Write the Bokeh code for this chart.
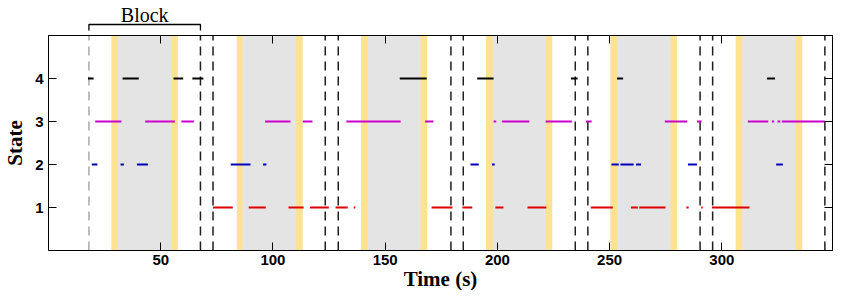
from bokeh.plotting import figure
from bokeh.layouts import column
from bokeh.models import LinearAxis, FixedTicker, Range1d
from bokeh.embed import file_html
from bokeh.resources import INLINE
from bokeh.core.properties import value

# ---------------- data ----------------
x_ticks = [50, 100, 150, 200, 250, 300]
y_ticks = [1, 2, 3, 4]
x_lim = [0.0, 349.3]
y_lim = [0.0, 5.0]
x_title = "Time (s)"
y_title = "State"

# block boundaries (dashed lines)
block_lines = [18.0, 67.7, 73.3, 123.3, 129.1, 179.3, 184.8, 234.7, 240.3, 290.3, 295.9, 345.9]
block_label = "Block"

# stimulus on / off bands
on_start = [28.1, 83.9, 139.2, 194.9, 250.4, 306.2]
on_end = [30.8, 86.5, 142.1, 197.9, 253.3, 309.1]
off_start = [55.0, 110.3, 165.8, 221.5, 277.1, 332.9]
off_end = [57.6, 113.2, 168.7, 224.4, 280.0, 335.8]

# state occupancy segments
state4_start = [17.6, 33.0, 55.7, 64.1, 156.5, 191.0, 232.8, 253.3, 320.1]
state4_end = [20.1, 40.2, 60.0, 69.0, 168.5, 198.3, 235.7, 256.0, 323.7]

state3_start = [20.8, 43.1, 59.2, 96.5, 113.3, 132.7, 167.8, 198.3, 202.0, 221.5, 239.4,
                274.6, 288.9, 311.6, 322.3, 324.8, 326.7]
state3_end = [32.5, 56.3, 64.8, 107.8, 117.6, 156.9, 171.5, 199.5, 214.2, 233.2, 242.0,
              284.6, 291.0, 320.7, 323.3, 326.0, 345.8]

state2_start = [19.3, 32.1, 39.4, 81.2, 95.6, 188.0, 197.6, 250.8, 254.8, 261.8, 284.9, 324.2]
state2_end = [21.8, 33.6, 44.3, 90.0, 97.1, 191.7, 198.8, 254.1, 260.7, 264.0, 288.9, 327.2]

state1_start = [73.3, 89.2, 106.9, 116.5, 127.9, 136.0, 170.7, 184.4, 199.1, 213.4, 241.6,
                259.5, 263.2, 284.2, 290.8, 295.6]
state1_end = [82.1, 96.8, 113.7, 124.9, 133.3, 136.7, 180.0, 188.8, 202.7, 221.8, 251.4,
              262.6, 274.9, 285.2, 291.5, 312.3]

# ---------------- layout constants ----------------
W = 834
TOP_H = 35
MAIN_H = 232
BOT_H = 23
BL, BR = 46, 2
tick_font = "Liberation Sans"
label_font = "Liberation Serif"


def strip(h):
    f = figure(width=W, height=h, output_backend="svg", toolbar_location=None,
               x_range=Range1d(*x_lim), y_range=Range1d(0, h),
               x_axis_location=None, y_axis_location=None,
               min_border_left=BL, min_border_right=BR, min_border_top=0, min_border_bottom=0)
    f.grid.visible = False
    f.outline_line_color = None
    f.background_fill_color = "white"
    f.border_fill_color = "white"
    return f


# ---------------- main figure ----------------
p = figure(width=W, height=MAIN_H, output_backend="svg", toolbar_location=None,
           x_range=Range1d(*x_lim), y_range=Range1d(*y_lim),
           min_border_left=BL, min_border_right=BR, min_border_top=0, min_border_bottom=0)
p.grid.visible = False
p.outline_line_color = "black"
p.background_fill_color = "white"
p.border_fill_color = "white"

GRAY = "#e4e4e4"
YELLOW = "#fde292"

p.quad(left=on_start, right=off_end, bottom=y_lim[0], top=y_lim[1],
       fill_color=GRAY, line_color=None)
p.quad(left=on_start, right=on_end, bottom=y_lim[0], top=y_lim[1],
       fill_color=YELLOW, line_color=None)
p.quad(left=off_start, right=off_end, bottom=y_lim[0], top=y_lim[1],
       fill_color=YELLOW, line_color=None)

line_colors = ["#aaaaaa"] + ["#1e1e1e"] * (len(block_lines) - 1)
p.segment(x0=block_lines, x1=block_lines,
          y0=[y_lim[0]] * len(block_lines), y1=[y_lim[1]] * len(block_lines),
          line_color=line_colors, line_width=1.5, line_dash="9 6")

series = [
    (4, state4_start, state4_end, "#000000"),
    (3, state3_start, state3_end, "#cc00cc"),
    (2, state2_start, state2_end, "#0000bb"),
    (1, state1_start, state1_end, "#dd0000"),
]
for lvl, s, e, c in series:
    p.segment(x0=s, x1=e, y0=[lvl] * len(s), y1=[lvl] * len(s),
              line_color=c, line_width=2, line_cap="butt")

for ax in p.xaxis:
    ax.ticker = FixedTicker(ticks=x_ticks)
for ax in p.yaxis:
    ax.ticker = FixedTicker(ticks=y_ticks)
for ax in list(p.xaxis) + list(p.yaxis):
    ax.major_tick_in = 8
    ax.major_tick_out = 0
    ax.minor_tick_line_color = None
    ax.axis_line_color = "black"
    ax.major_tick_line_color = "black"
    ax.major_label_text_font = tick_font
    ax.major_label_text_font_style = "bold"
    ax.major_label_text_font_size = "15px"
    ax.major_label_text_color = "black"
    ax.axis_label_text_font = label_font
    ax.axis_label_text_font_style = "bold"
    ax.axis_label_text_font_size = "21px"
    ax.axis_label_text_color = "black"
p.yaxis.axis_label = y_title
p.xaxis.major_label_standoff = 4
p.yaxis.major_label_standoff = 5
p.yaxis.axis_label_standoff = 5

for loc, ticks in (("above", x_ticks), ("right", y_ticks)):
    ax = LinearAxis(ticker=FixedTicker(ticks=ticks), major_tick_in=8, major_tick_out=0,
                    minor_tick_line_color=None, major_label_text_font_size="1px",
                    major_label_text_color=None, major_label_standoff=0,
                    axis_line_color="black", major_tick_line_color="black")
    p.add_layout(ax, loc)

# ---------------- block bracket strip above ----------------
top = strip(TOP_H)
top.x_range = p.x_range
bx0, bx1 = block_lines[0], block_lines[1]
y_br, y_tk, y_txt = 11, 5, 21
top.line(x=[bx0, bx0, bx1, bx1], y=[y_tk, y_br, y_br, y_tk], line_color="black", line_width=1.3)
top.text(x=[(bx0 + bx1) / 2], y=[y_txt], text=[block_label], text_align="center",
         text_baseline="alphabetic", text_font=value(label_font), text_font_size="20px",
         text_color="black")

# ---------------- x-axis title strip below ----------------
bot = strip(BOT_H)
bot.x_range = p.x_range
bot.text(x=[(x_lim[0] + x_lim[1]) / 2], y=[BOT_H / 2], text=[x_title], text_align="center",
         text_baseline="middle", text_font=value(label_font), text_font_size="21px",
         text_font_style="bold", text_color="black")

layout = column(top, p, bot, spacing=0)
open("out.html", "w").write(file_html(layout, INLINE))
